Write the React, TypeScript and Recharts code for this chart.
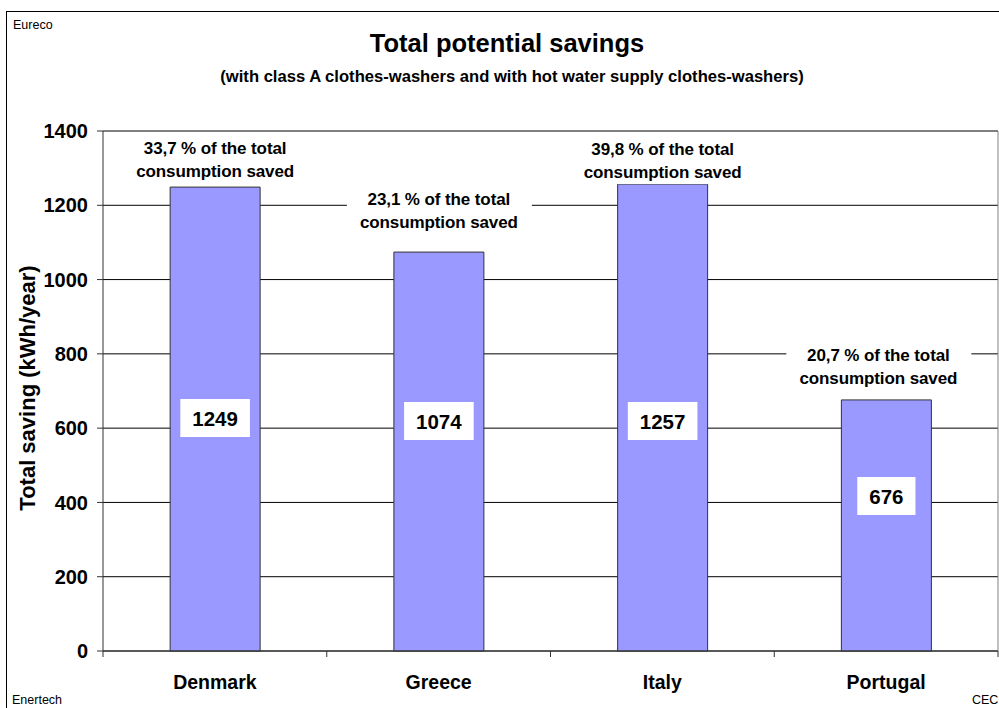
import React from 'react';
import { BarChart, Bar, XAxis, YAxis, CartesianGrid, LabelList } from 'recharts';

const countries = ['Denmark', 'Greece', 'Italy', 'Portugal'];
const savings = [1249, 1074, 1257, 676];
const shares = ['33,7', '23,1', '39,8', '20,7'];
const yTicks = [0, 200, 400, 600, 800, 1000, 1200, 1400];

const data = countries.map((country, i) => ({ country, saving: savings[i], share: shares[i] }));

const FONT = '"Liberation Sans", Arial, sans-serif';
const W = 999;
const H = 708;
const PLOT_LEFT = 103;
const PLOT_RIGHT = 998;
const BAND = (PLOT_RIGHT - PLOT_LEFT) / countries.length;

// manual placement nudges (as in the original spreadsheet chart)
const noteLift = [16, 30, 12, 21];
const noteShiftX = [0, 0, 0, -8];
const valueLift = [233, 230, 230, 155];

const ValueBox = (props: any) => {
  const { x, y, width, height, value, index } = props;
  const cx = x + width / 2;
  const cy = y + height - valueLift[index];
  const txt = String(value);
  const tw = txt.length * 0.556 * 20.5;
  const bw = tw + 24;
  const bh = 38;
  return (
    <g>
      <rect x={cx - bw / 2} y={cy - bh / 2} width={bw} height={bh} fill="#fff" />
      <text x={cx} y={cy} textAnchor="middle" dominantBaseline="central" fontFamily={FONT} fontWeight="bold" fontSize={20.5} fill="#000">
        {txt}
      </text>
    </g>
  );
};

const ShareNote = (props: any) => {
  const { x, y, width, value, index } = props;
  const cx = x + width / 2 + noteShiftX[index];
  const line2 = y - noteLift[index];
  const line1 = line2 - 23;
  return (
    <g>
      <rect x={cx - 92} y={line1 - 12} width={185} height={47} fill="#fff" />
      <text x={cx} y={line1} textAnchor="middle" dominantBaseline="central" fontFamily={FONT} fontWeight="bold" fontSize={17} letterSpacing={-0.1} fill="#000">
        {`${value} % of the total`}
      </text>
      <text x={cx} y={line2} textAnchor="middle" dominantBaseline="central" fontFamily={FONT} fontWeight="bold" fontSize={17} letterSpacing={-0.1} fill="#000">
        consumption saved
      </text>
    </g>
  );
};

const CategoryTick = (props: any) => {
  const { x, y, payload, index } = props;
  const axisY = y - 8;
  const left = x - BAND / 2;
  return (
    <g>
      <line x1={left} x2={left} y1={axisY} y2={axisY + 6} stroke="#333" />
      {index === countries.length - 1 && (
        <line x1={x + BAND / 2} x2={x + BAND / 2} y1={axisY} y2={axisY + 6} stroke="#333" />
      )}
      <text x={x} y={axisY + 31} textAnchor="middle" dominantBaseline="central" fontFamily={FONT} fontWeight="bold" fontSize={19.5} fill="#000">
        {payload.value}
      </text>
    </g>
  );
};

export default function App() {
  return (
    <div style={{ position: 'absolute', left: 0, top: 0, width: W, height: H, background: '#fff', overflow: 'hidden' }}>
      <BarChart
        width={W}
        height={H}
        data={data}
        margin={{ top: 131, right: 0, bottom: 17, left: 3 }}
        barCategoryGap="30%"
      >
        <CartesianGrid vertical={false} stroke="#000" strokeOpacity={1} />
        <XAxis
          dataKey="country"
          height={40}
          tickLine={false}
          axisLine={{ stroke: '#333' }}
          tick={<CategoryTick />}
          interval={0}
        />
        <YAxis
          width={100}
          domain={[0, 1400]}
          ticks={yTicks}
          interval={0}
          tickSize={6}
          tickMargin={9}
          axisLine={{ stroke: '#333' }}
          tickLine={{ stroke: '#333' }}
          tick={{ fontFamily: FONT, fontWeight: 'bold', fontSize: 20, fill: '#000' }}
        />
        <YAxis
          yAxisId="frame"
          orientation="right"
          width={1}
          tick={false}
          tickLine={false}
          axisLine={{ stroke: '#808080' }}
        />
        <Bar dataKey="saving" fill="#9999FF" stroke="#333" strokeWidth={1} isAnimationActive={false}>
          <LabelList dataKey="saving" content={<ValueBox />} />
          <LabelList dataKey="share" content={<ShareNote />} />
        </Bar>
      </BarChart>
      <svg width={W} height={H} style={{ position: 'absolute', left: 0, top: 0, pointerEvents: 'none' }}>
        <rect x={6.5} y={11.5} width={1100} height={1100} fill="none" stroke="#000" strokeWidth={1} />
        <text x={13} y={29} fontFamily={FONT} fontSize={12.5} fill="#000">Eureco</text>
        <text x={12} y={704} fontFamily={FONT} fontSize={12.5} fill="#000">Enertech</text>
        <text x={972} y={704} fontFamily={FONT} fontSize={12.5} fill="#000">CEC</text>
        <text x={507} y={52} textAnchor="middle" fontFamily={FONT} fontWeight="bold" fontSize={25.5} fill="#000">
          Total potential savings
        </text>
        <text x={512} y={82} textAnchor="middle" fontFamily={FONT} fontWeight="bold" fontSize={16.6} fill="#000">
          (with class A clothes-washers and with hot water supply clothes-washers)
        </text>
        <text
          x={27}
          y={388}
          transform="rotate(-90 27 388)"
          textAnchor="middle"
          dominantBaseline="central"
          fontFamily={FONT}
          fontWeight="bold"
          fontSize={22}
          fill="#000"
        >
          Total saving (kWh/year)
        </text>
      </svg>
    </div>
  );
}
